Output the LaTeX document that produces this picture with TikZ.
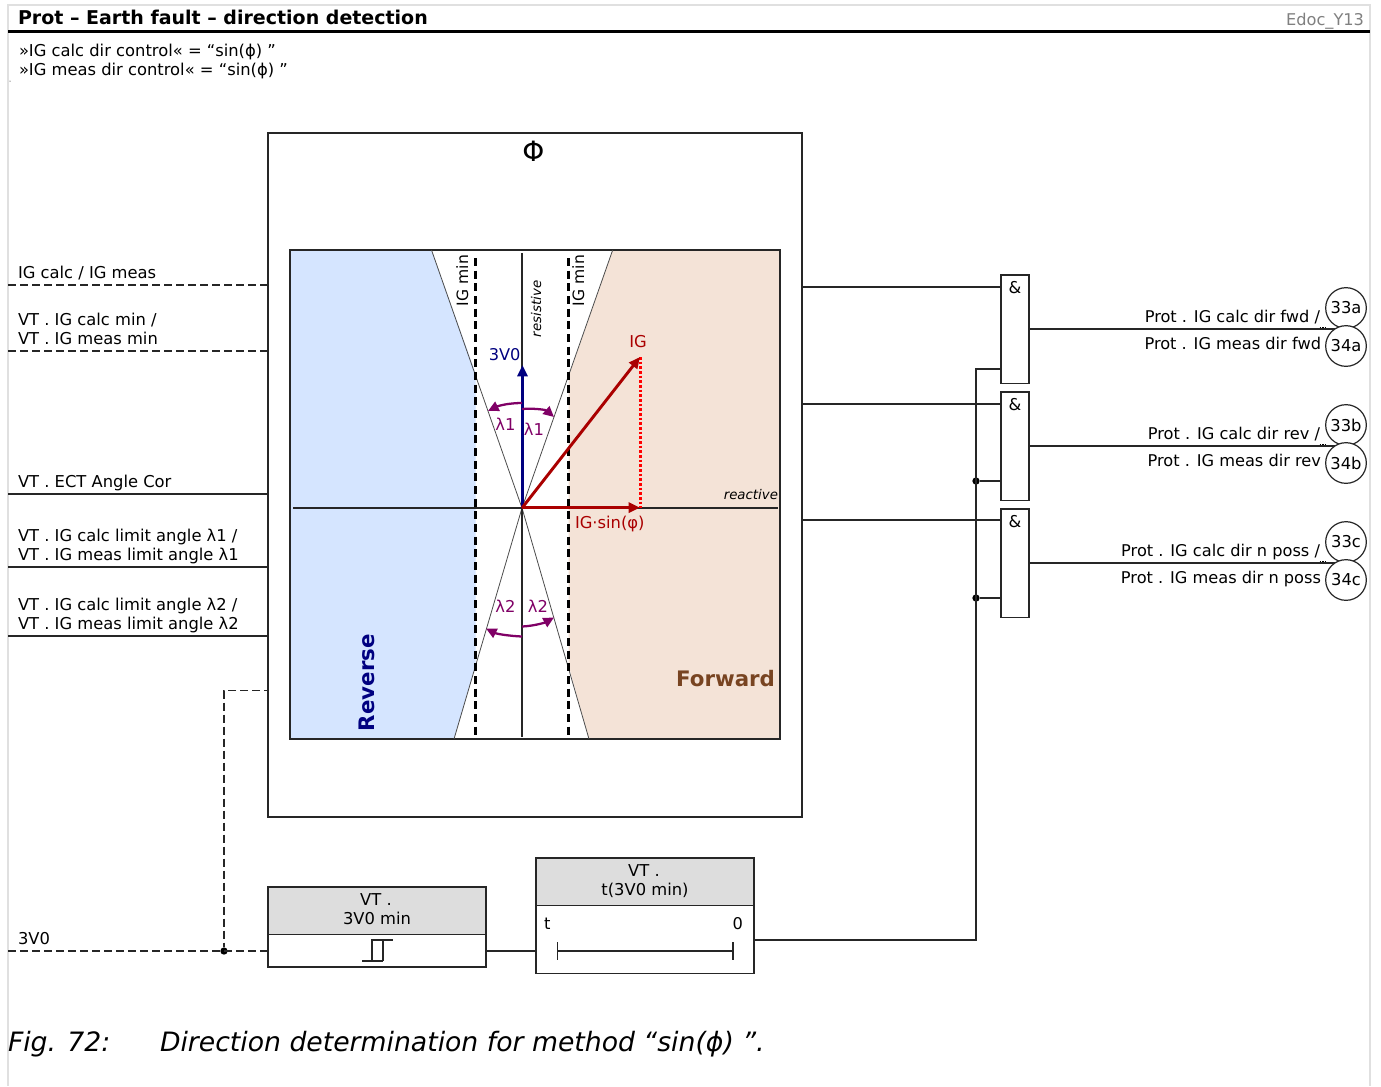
\documentclass[tikz,border=0pt]{standalone}
\usepackage{fontspec}
\setmainfont{DejaVu Sans}
\usetikzlibrary{arrows.meta}
\definecolor{revblue}{HTML}{D5E5FF}
\definecolor{fwdtan}{HTML}{F4E3D7}
\definecolor{navyc}{HTML}{000080}
\definecolor{redc}{HTML}{AA0000}
\definecolor{purplec}{HTML}{800066}
\definecolor{brownc}{HTML}{784421}
\definecolor{headg}{HTML}{DDDDDD}
\tikzset{
 lbl/.style={inner sep=0pt,outer sep=0pt,font=\fontsize{12.25}{14}\selectfont,anchor=base west},
 lblr/.style={lbl,anchor=base east,font=\fontsize{12.15}{14}\selectfont},
 lblc/.style={lbl,anchor=base},
 wire/.style={line width=0.9pt,black!85},
 dwire/.style={wire,dash pattern=on 6pt off 3pt},
 boxn/.style={draw=black!85,line width=0.9pt,inner sep=0pt,outer sep=0pt,rectangle},
 andgate/.style={boxn,fill=white,minimum width=21pt,minimum height=81.5pt},
 circn/.style={draw=black!85,line width=0.9pt,circle,fill=white,minimum size=30.5pt,inner sep=0pt,outer sep=0pt,font=\fontsize{12.25}{14}\selectfont},
 thin gray/.style={line width=.6pt,black!70},
 imin/.style={line width=2pt,black,dash pattern=on 6pt off 3.5pt},
 vec/.style={line width=2.2pt,-{Triangle[length=8.5pt,width=7.5pt]}},
 ang/.style={line width=1.7pt,purplec,-{Triangle[length=8pt,width=7.5pt]}},
 dotn/.style={circle,fill=black,inner sep=0pt,minimum size=5.5pt},
}
\begin{document}
\begin{tikzpicture}[x=0.75pt,y=-0.75pt]
\useasboundingbox (0,0) rectangle (1381,1086);
\fill[white] (0,0) rectangle (1381,1086);
% page frame
\draw[black!12,line width=1pt] (8,1086) -- (8,5) -- (1370,5) -- (1370,1086);
\draw[black,line width=2pt] (8,31.5) -- (1370,31.5);
\fill[black] (10,81) circle (0.5);
\node[lbl,font=\bfseries\fontsize{14.25}{16}\selectfont] (title) at (18,24) {Prot – Earth fault – direction detection};
\node[lblr,text=black!50] (edoc) at (1364,25) {Edoc\_Y13};
\node[lbl] (h1) at (19,56) {»IG calc dir control« = “sin(ϕ) ”};
\node[lbl] (h2) at (19,75) {»IG meas dir control« = “sin(ϕ) ”};
% outer
\node[boxn,fill=white,minimum width=400.5pt,minimum height=513pt] (outer) at (535,475) {};
\node[lblc,font=\fontsize{21}{24}\selectfont] (phi) at (533.5,161) {Φ};
% inner regions
\fill[revblue] (290,250) -- (431.5,250) -- (475.5,373) -- (475.5,665) -- (454,739) -- (290,739) -- cycle;
\fill[fwdtan] (780,250) -- (612.7,250) -- (568.5,377) -- (568.5,665) -- (589,739) -- (780,739) -- cycle;
\node[draw=black!85,line width=0.9pt,minimum width=367.5pt,minimum height=366.75pt,inner sep=0pt,outer sep=0pt] (inner) at (535,494.5) {};
\coordinate (O) at (522,508);
\draw[thin gray] (431.5,250) -- (O) -- (589,739);
\draw[thin gray] (612.7,250) -- (O) -- (454,739);
\draw[wire] (522,253) -- (522,737);
\draw[wire] (293,508) -- (778,508);
\draw[imin] (475.5,258) -- (475.5,739);
\draw[imin] (568.5,258) -- (568.5,739);
\node[lbl,rotate=90,font=\fontsize{11.7}{14}\selectfont] (igl) at (468,306) {IG min};
\node[lbl,rotate=90,font=\fontsize{11.7}{14}\selectfont] (igr) at (584,306) {IG min};
\node[lbl,rotate=90,font=\itshape\fontsize{10}{12}\selectfont] (res) at (541,337) {resistive};
\node[lblr,font=\itshape\fontsize{10}{12}\selectfont] (rea) at (778,499) {reactive};
% vectors
\coordinate (tipU) at (522.5,365);
\coordinate (tipI) at (640,357);
\coordinate (tipS) at (640,507.6);
\draw[red,line width=2.4pt,dash pattern=on 2pt off 1.5pt] (640.4,357) -- (640.4,507.6);
\draw[vec,navyc] (522.5,508) -- (tipU);
\draw[vec,redc] (O) -- (tipI);
\draw[vec,redc] (522,507.6) -- (tipS);
\node[lblr,text=navyc] (l3v) at (520.5,360) {3V0};
\node[lblc,text=redc] (lig) at (638,347) {IG};
\node[lbl,text=redc] (lsin) at (575,528) {IG·sin(φ)};
% angles
\draw[ang] (522,403) .. controls (508,403) and (498,406) .. (488,411);
\draw[ang] (522,409) .. controls (535,408) and (546,410) .. (554,417);
\draw[ang] (522,636.5) .. controls (510,636) and (497,634) .. (486,628.5);
\draw[ang] (522,626.5) .. controls (533,626) and (544,623) .. (554,617.5);
\node[lblc,text=purplec] (a1) at (505.5,430) {λ1};
\node[lblc,text=purplec] (a2) at (534,435) {λ1};
\node[lblc,text=purplec] (a3) at (505.5,612) {λ2};
\node[lblc,text=purplec] (a4) at (538,612) {λ2};
\node[lbl,rotate=90,text=navyc,font=\bfseries\fontsize{16}{18}\selectfont] (rev) at (374,731) {Reverse};
\node[lblr,text=brownc,font=\bfseries\fontsize{16}{18}\selectfont] (fwd) at (775,686) {Forward};
% left signals
\coordinate (s1) at (8,285); \coordinate (s2) at (8,351); \coordinate (s3) at (8,494);
\coordinate (s4) at (8,567); \coordinate (s5) at (8,636); \coordinate (s6) at (8,951);
\draw[dwire] (s1) -- (outer.west |- s1);
\draw[dwire] (s2) -- (outer.west |- s2);
\draw[wire] (s3) -- (outer.west |- s3);
\draw[wire] (s4) -- (outer.west |- s4);
\draw[wire] (s5) -- (outer.west |- s5);
\node[lbl] at (18,278) {IG calc / IG meas};
\node[lbl] at (18,325) {VT . IG calc min /};
\node[lbl] at (18,344) {VT . IG meas min};
\node[lbl] at (18,487) {VT . ECT Angle Cor};
\node[lbl] at (18,541) {VT . IG calc limit angle λ1 /};
\node[lbl] at (18,560) {VT . IG meas limit angle λ1};
\node[lbl] at (18,610) {VT . IG calc limit angle λ2 /};
\node[lbl] at (18,629) {VT . IG meas limit angle λ2};
\node[lbl] at (18,944) {3V0};
% bottom blocks
\node[boxn,anchor=north west,fill=headg,minimum width=163.5pt,minimum height=35.6pt] (v1h) at (268,887) {};
\node[boxn,anchor=north west,fill=white,minimum width=163.5pt,minimum height=24.4pt] (v1b) at (268,934.5) {};
\node[lblc] at (376,905) {VT .};
\node[lblc] at (377,924) {3V0 min};
\node[boxn,anchor=north west,fill=headg,minimum width=163.5pt,minimum height=35.6pt] (v2h) at (536,858) {};
\node[boxn,anchor=north west,fill=white,minimum width=163.5pt,minimum height=51pt] (v2b) at (536,905.5) {};
\node[lblc] at (644,876) {VT .};
\node[lblc] at (645,895) {t(3V0 min)};
\node[lbl] at (544,929) {t};
\node[lblr] at (743,929) {0};
\draw[wire] (557.5,942) -- (557.5,960);
\draw[wire] (733,942) -- (733,960);
\draw[wire] (557.5,951) -- (733,951);
\draw[wire] (362,961) -- (383,961);
\draw[wire] (372,961) -- (372,940) -- (393,940);
\draw[wire] (383,961) -- (383,940);
\node[dotn] (j0) at (224,951) {};
\coordinate (c1) at (268,690.5);
\draw[dwire] (s6) -- (v1b.west |- s6);
\draw[dwire,dash phase=3pt] (outer.west |- c1) -| (j0);
\draw[wire] (v1b.east |- s6) -- (v2b.west |- s6);
% gates
\node[andgate,anchor=north west] (g1) at (1001,275) {};
\node[andgate,anchor=north west] (g2) at (1001,392) {};
\node[andgate,anchor=north west] (g3) at (1001,509) {};
\foreach \g in {g1,g2,g3}{\node[lblc] at ([yshift=-14pt]\g.north) {\&};}
\coordinate (i1) at (0,287); \coordinate (i2) at (0,404); \coordinate (i3) at (0,520);
\draw[wire] (outer.east |- i1) -- (g1.west |- i1);
\draw[wire] (outer.east |- i2) -- (g2.west |- i2);
\draw[wire] (outer.east |- i3) -- (g3.west |- i3);
\node[dotn] (j1) at (976,481) {};
\node[dotn] (j2) at (976,598) {};
\coordinate (t1) at (1001,369); \coordinate (bus) at (976,940);
\draw[wire] (v2b.east |- bus) -- (bus) -- (976,369) -- (g1.west |- t1);
\draw[wire] (j1) -- (g2.west |- j1);
\draw[wire] (j2) -- (g3.west |- j2);
% outputs
\coordinate (o1) at (1336,329); \coordinate (o2) at (1336,446); \coordinate (o3) at (1336,563);
\draw[wire] (g1.east |- o1) -- (o1);
\draw[wire] (g2.east |- o2) -- (o2);
\draw[wire] (g3.east |- o3) -- (o3);
\foreach \yy in {327.7,444.7,561.7}{\draw[black,line width=0.7pt,dash pattern=on 1pt off 1pt] (1319.5,\yy) -- (1326,\yy);}
\node[circn] (c33a) at (1346,308) {33a};
\node[circn] (c34a) at (1346,346) {34a};
\node[circn] (c33b) at (1346,425) {33b};
\node[circn] (c34b) at (1346,463) {34b};
\node[circn] (c33c) at (1346,542) {33c};
\node[circn] (c34c) at (1346,580) {34c};
\node[lblr] at (1320,322) {Prot . IG calc dir fwd /};
\node[lblr] at (1321,349) {Prot . IG meas dir fwd};
\node[lblr] at (1320,439) {Prot . IG calc dir rev /};
\node[lblr] at (1321,466) {Prot . IG meas dir rev};
\node[lblr] at (1320,556) {Prot . IG calc dir n poss /};
\node[lblr] at (1321,583) {Prot . IG meas dir n poss};
% caption
\node[lbl,font=\itshape\fontsize{20}{24}\selectfont] (f1) at (8,1051) {Fig. 72:};
\node[lbl,font=\itshape\fontsize{20}{24}\selectfont] (f2) at (160,1051) {Direction determination for method “sin(ϕ) ”.};
\end{tikzpicture}
\end{document}
